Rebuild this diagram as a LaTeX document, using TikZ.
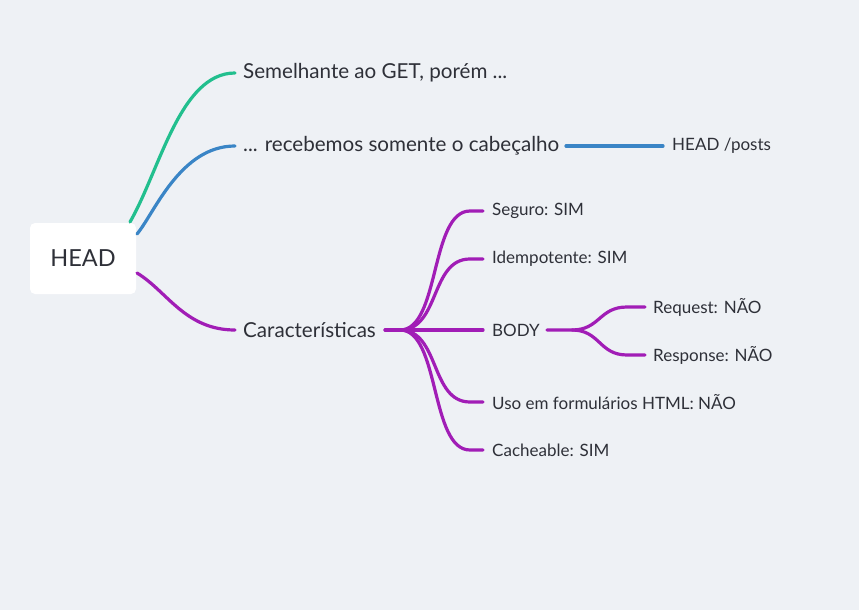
\documentclass[tikz,border=0pt]{standalone}
\usepackage{fontspec}
\setmainfont{Lato}
\definecolor{bg}{HTML}{EEF1F5}
\definecolor{txt}{HTML}{2E3038}
\definecolor{cgreen}{HTML}{22BF8E}
\definecolor{cblue}{HTML}{3A85C6}
\definecolor{cpurple}{HTML}{A11DB6}
\tikzset{
  big/.style={anchor=west, inner sep=0pt, text=txt, font=\fontsize{20.6}{22}\selectfont},
  small/.style={anchor=west, inner sep=0pt, text=txt, font=\fontsize{17}{19}\selectfont},
  conn/.style={line width=3.2pt, line cap=round},
  gline/.style={conn, draw=cgreen},
  bline/.style={conn, draw=cblue},
  pline/.style={conn, draw=cpurple},
}
\begin{document}
\begin{tikzpicture}[x=1pt,y=-1pt]
\fill[bg] (0,0) rectangle (859,610);
\useasboundingbox (0,0) rectangle (859,610);

% root
\node[fill=white, rounded corners=5pt, minimum width=106pt, minimum height=71pt, inner sep=0pt,
      text=txt, font=\fontsize{23.5}{25}\selectfont] (head) at (83,258.5) {HEAD};

% first-level nodes
\node[big] (sem) at (243,73) {Semelhante ao GET, porém ...};
\node[big] (rec) at (243,146) {... recebemos somente o cabeçalho};
\node[small] (posts) at (672,146) {HEAD /posts};
\node[big] (car) at (243,330) {Características};

% characteristics children
\node[small] (seg) at (492,211) {Seguro: SIM};
\node[small] (idem) at (492,259) {Idempotente: SIM};
\node[small] (body) at (492,330) {BODY};
\node[small] (uso) at (492,402) {Uso em formulários HTML: NÃO};
\node[small] (cache) at (492,450) {Cacheable: SIM};
\node[small] (req) at (653,307) {Request: NÃO};
\node[small] (resp) at (653,355) {Response: NÃO};

% connector anchor points
\coordinate (gS) at (130,222);
\coordinate (gE) at (235,73);
\coordinate (bS) at (137,234);
\coordinate (bE) at (235,146);
\coordinate (pS) at (137,273);
\coordinate (pE) at (235,330);
\coordinate (rS) at (566,146);
\coordinate (rE) at (663,146);
\coordinate (cS) at (385,330);
\coordinate (hub) at (400,330);
\coordinate (segK) at (470,211);  \coordinate (segE) at (483,211);
\coordinate (idemK) at (470,259); \coordinate (idemE) at (483,259);
\coordinate (bodyE) at (483,330);
\coordinate (usoK) at (470,402);  \coordinate (usoE) at (483,402);
\coordinate (cacheK) at (470,450);\coordinate (cacheE) at (483,450);
\coordinate (bS2) at (547,330);
\coordinate (hub2) at (572,330);
\coordinate (reqK) at (627,307);  \coordinate (reqE) at (645,307);
\coordinate (respK) at (627,355); \coordinate (respE) at (645,355);

% root connectors
\draw[gline] (gS) .. controls +(30,-52) and +(-55,0) .. (gE);
\draw[bline] (bS) .. controls +(17,-20) and +(-55,0) .. (bE);
\draw[pline] (pS) .. controls +(30,18) and +(-50,0) .. (pE);
\draw[bline] (rS) -- (rE);

% characteristics connectors
\draw[pline] (cS) -- (hub) .. controls +(40,0) and +(-40,0) .. (segK) -- (segE);
\draw[pline] (hub) .. controls +(40,0) and +(-40,0) .. (idemK) -- (idemE);
\draw[pline] (cS) -- (bodyE);
\draw[pline] (hub) .. controls +(40,0) and +(-40,0) .. (usoK) -- (usoE);
\draw[pline] (hub) .. controls +(40,0) and +(-40,0) .. (cacheK) -- (cacheE);

% body connectors
\draw[pline] (bS2) -- (hub2) .. controls +(28,0) and +(-28,0) .. (reqK) -- (reqE);
\draw[pline] (hub2) .. controls +(28,0) and +(-28,0) .. (respK) -- (respE);
\end{tikzpicture}
\end{document}
